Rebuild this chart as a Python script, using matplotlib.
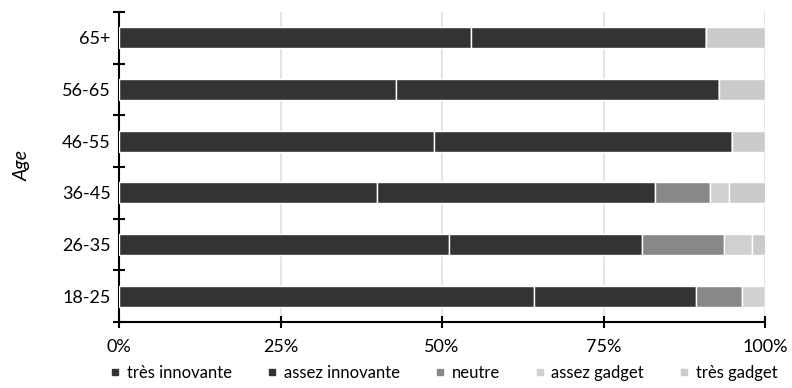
import numpy as np
import matplotlib.pyplot as plt
from matplotlib.lines import Line2D
from matplotlib.ticker import PercentFormatter

plt.rcParams['font.family'] = ['Lato', 'DejaVu Sans']

ages = ['18-25', '26-35', '36-45', '46-55', '56-65', '65+']
series = ['très innovante', 'assez innovante', 'neutre', 'assez gadget', 'très gadget']
tres_innovante = [64.3, 51.1, 40.0, 48.7, 42.9, 54.5]
assez_innovante = [25.0, 29.8, 42.9, 46.2, 50.0, 36.4]
neutre = [7.1, 12.8, 8.6, 0.0, 0.0, 0.0]
assez_gadget = [3.6, 4.3, 2.9, 0.0, 0.0, 0.0]
tres_gadget = [0.0, 2.1, 5.7, 5.1, 7.1, 9.1]
colors = ['#333333', '#333333', '#888888', '#d0d0d0', '#cbcbcb']

values = [tres_innovante, assez_innovante, neutre, assez_gadget, tres_gadget]

fig = plt.figure(figsize=(7.92, 3.88), dpi=100)
ax = fig.add_axes([119 / 792, 66 / 388, 646 / 792, 310 / 388])

y = np.arange(len(ages))
left = np.zeros(len(ages))
for vals, col in zip(values, colors):
    vals = np.array(vals)
    ax.barh(y, vals, left=left, height=0.41, color=col, edgecolor='white',
            linewidth=1.0, zorder=3)
    left += vals

ax.set_xlim(0, 100)
ax.set_ylim(-0.5, len(ages) - 0.5)
ax.set_xticks([0, 25, 50, 75, 100])
ax.xaxis.set_major_formatter(PercentFormatter(decimals=0))
ax.set_yticks(y)
ax.set_yticklabels(ages)
ax.set_yticks(np.arange(-0.5, len(ages)), minor=True)
ax.tick_params(axis='y', which='major', length=0, pad=6, labelsize=13)
ax.tick_params(axis='y', which='minor', length=8, width=1.5, direction='inout')
ax.tick_params(axis='x', length=8, width=1.5, direction='inout', pad=8, labelsize=13)

ax.grid(axis='x', color='#e0e0e0', linewidth=1.2, zorder=0)
for s in ['top', 'right']:
    ax.spines[s].set_visible(False)
ax.spines['left'].set_linewidth(1.5)
ax.spines['bottom'].set_linewidth(1.5)

fig.text(22 / 792, 1 - 165 / 388, 'Age', rotation=90, style='italic',
         fontsize=14, ha='center', va='center')

handles = [Line2D([], [], marker='s', linestyle='none', markersize=5,
                  markerfacecolor=c, markeredgecolor=c) for c in colors]
fig.legend(handles, series, loc='center', bbox_to_anchor=(443 / 792, 1 - 373 / 388),
           ncol=5, frameon=False, fontsize=12, handletextpad=0.3,
           columnspacing=2.0, handlelength=0.8, borderpad=0)

fig.savefig('out.png', dpi=100)
